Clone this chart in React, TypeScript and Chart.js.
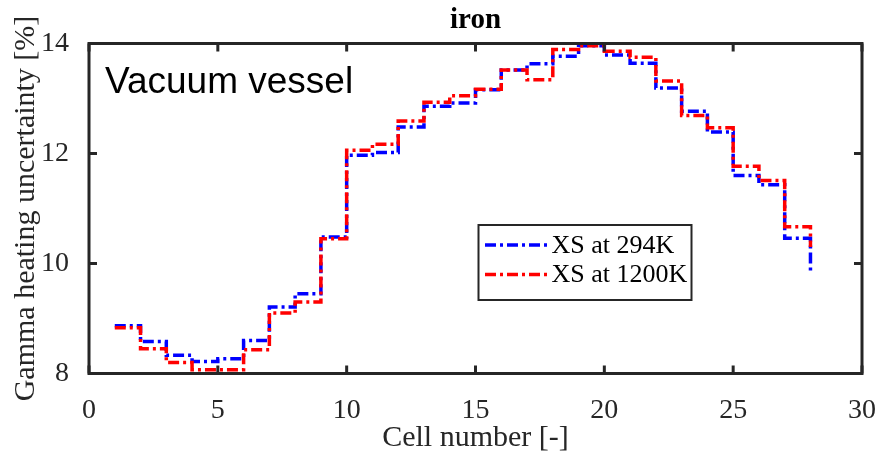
import { useEffect, useRef } from 'react';
import { Chart, registerables } from 'chart.js';

Chart.register(...registerables);

// Cell index along the component (x) and gamma heating uncertainty [%] per cell
const cellNumbers = [1, 2, 3, 4, 5, 6, 7, 8, 9, 10, 11, 12, 13, 14, 15, 16, 17, 18, 19, 20, 21, 22, 23, 24, 25, 26, 27, 28];
const xs294K = [8.87, 8.58, 8.33, 8.22, 8.27, 8.6, 9.21, 9.45, 10.48, 11.97, 12.02, 12.48, 12.86, 12.92, 13.16, 13.52, 13.63, 13.77, 13.96, 13.79, 13.64, 13.19, 12.77, 12.39, 11.6, 11.43, 10.46, 9.85];
const xs1200K = [8.83, 8.45, 8.2, 8.07, 8.07, 8.43, 9.1, 9.3, 10.45, 12.06, 12.17, 12.59, 12.93, 13.05, 13.17, 13.52, 13.34, 13.89, 13.96, 13.86, 13.75, 13.32, 12.69, 12.47, 11.77, 11.51, 10.67, 10.3];

const xTicks = [0, 5, 10, 15, 20, 25, 30];
const yTicks = [8, 10, 12, 14];
const seriesLabels = ['XS at 294K', 'XS at 1200K'];
const seriesColors = ['#0000ff', '#ff0000'];
const chartTitle = 'iron';
const regionLabel = 'Vacuum vessel';
const xAxisTitle = 'Cell number [-]';
const yAxisTitle = 'Gamma heating uncertainty [%]';

const AXIS_COLOR = '#262626';
const SERIF = '"Liberation Serif", "Times New Roman", serif';
const SANS = '"Liberation Sans", Arial, sans-serif';
const DASH_DOT = [11, 4, 3, 4];
const LINE_W = 3.5;

const decorations = {
  id: 'decorations',
  afterDatasetsDraw(chart: any) {
    const { ctx, chartArea: a, scales } = chart;
    const xs = scales.x;
    const ys = scales.y;
    ctx.save();

    // box and inward ticks on all four sides
    ctx.strokeStyle = AXIS_COLOR;
    ctx.lineWidth = 3;
    ctx.lineCap = 'butt';
    ctx.strokeRect(a.left, a.top, a.right - a.left, a.bottom - a.top);
    const tl = 8;
    ctx.beginPath();
    for (const v of xTicks) {
      const px = xs.getPixelForValue(v);
      ctx.moveTo(px, a.bottom);
      ctx.lineTo(px, a.bottom - tl);
      ctx.moveTo(px, a.top);
      ctx.lineTo(px, a.top + tl);
    }
    for (const v of yTicks) {
      const py = ys.getPixelForValue(v);
      ctx.moveTo(a.left, py);
      ctx.lineTo(a.left + tl, py);
      ctx.moveTo(a.right, py);
      ctx.lineTo(a.right - tl, py);
    }
    ctx.stroke();

    // region annotation
    ctx.fillStyle = '#000000';
    ctx.font = `37px ${SANS}`;
    ctx.textAlign = 'left';
    ctx.textBaseline = 'alphabetic';
    ctx.fillText(regionLabel, 105, 93);

    // legend
    const lx = 478.5, ly = 225, lw = 213, lh = 75;
    ctx.fillStyle = '#ffffff';
    ctx.fillRect(lx, ly, lw, lh);
    ctx.strokeStyle = AXIS_COLOR;
    ctx.lineWidth = 2;
    ctx.strokeRect(lx, ly, lw, lh);
    const rows = [245, 274.5];
    ctx.font = `26px ${SERIF}`;
    ctx.textBaseline = 'middle';
    seriesLabels.forEach((label, i) => {
      ctx.strokeStyle = seriesColors[i];
      ctx.lineWidth = LINE_W;
      ctx.setLineDash(DASH_DOT);
      ctx.beginPath();
      ctx.moveTo(485, rows[i]);
      ctx.lineTo(547, rows[i]);
      ctx.stroke();
      ctx.setLineDash([]);
      ctx.fillStyle = '#000000';
      ctx.fillText(label, 551.5, rows[i] + 1);
    });

    // titles
    ctx.textAlign = 'center';
    ctx.textBaseline = 'alphabetic';
    ctx.font = `bold 29px ${SERIF}`;
    ctx.fillStyle = '#000000';
    ctx.fillText(chartTitle, (a.left + a.right) / 2, 28);
    ctx.fillStyle = AXIS_COLOR;
    ctx.font = `30px ${SERIF}`;
    ctx.fillText(xAxisTitle, (a.left + a.right) / 2, 446);
    ctx.translate(34, (a.top + a.bottom) / 2);
    ctx.rotate(-Math.PI / 2);
    ctx.fillText(yAxisTitle, 0, 0);
    ctx.restore();
  },
};

export default function App() {
  const canvasRef = useRef<HTMLCanvasElement | null>(null);

  useEffect(() => {
    const canvas = canvasRef.current;
    if (!canvas) return;
    const makePoints = (vals: number[]) => cellNumbers.map((c, i) => ({ x: c, y: vals[i] }));
    const chart = new Chart(canvas, {
      type: 'line',
      data: {
        datasets: [
          {
            label: seriesLabels[0],
            data: makePoints(xs294K),
            borderColor: seriesColors[0],
            borderWidth: LINE_W,
            borderDash: DASH_DOT,
            stepped: 'before',
            pointRadius: 0,
            fill: false,
            order: 1,
          },
          {
            label: seriesLabels[1],
            data: makePoints(xs1200K),
            borderColor: seriesColors[1],
            borderWidth: LINE_W,
            borderDash: DASH_DOT,
            stepped: 'before',
            pointRadius: 0,
            fill: false,
            order: 0,
          },
        ],
      },
      options: {
        animation: false,
        responsive: false,
        maintainAspectRatio: false,
        layout: { padding: { top: 43.5, right: 15, left: 0, bottom: 0 } },
        plugins: {
          legend: { display: false },
          title: { display: false },
          tooltip: { enabled: false },
        },
        scales: {
          x: {
            type: 'linear',
            min: 0,
            max: 30,
            afterBuildTicks: (s: any) => {
              s.ticks = xTicks.map((v) => ({ value: v }));
            },
            afterFit: (s: any) => {
              s.height = 454 - 373.5;
              s.paddingLeft = 0;
              s.paddingRight = 0;
            },
            grid: { display: false },
            border: { display: false },
            ticks: {
              color: AXIS_COLOR,
              font: { family: SERIF, size: 28 },
              padding: 12,
              maxRotation: 0,
              autoSkip: false,
            },
          },
          y: {
            type: 'linear',
            min: 8,
            max: 14,
            afterBuildTicks: (s: any) => {
              s.ticks = yTicks.map((v) => ({ value: v }));
            },
            afterFit: (s: any) => {
              s.width = 89;
              s.paddingTop = 0;
              s.paddingBottom = 0;
            },
            grid: { display: false },
            border: { display: false },
            ticks: {
              color: AXIS_COLOR,
              font: { family: SERIF, size: 28 },
              padding: 12,
              autoSkip: false,
            },
          },
        },
      },
      plugins: [decorations],
    });
    return () => chart.destroy();
  }, []);

  return (
    <div style={{ position: 'fixed', left: 0, top: 0, width: 877, height: 454, background: '#ffffff' }}>
      <canvas ref={canvasRef} width={877} height={454} style={{ display: 'block', width: 877, height: 454 }} />
    </div>
  );
}
